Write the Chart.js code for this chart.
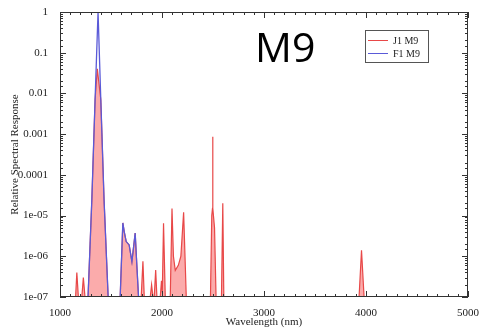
<!DOCTYPE html>
<html>
<head>
<meta charset="utf-8">
<script src="https://cdn.jsdelivr.net/npm/chart.js@4"></script>
<style>
html,body{margin:0;padding:0;background:#fff}
</style>
</head>
<body>
<canvas id="c" width="481" height="330"></canvas>
<script>

// baseline value just under the axis floor
const B = 7e-8

// J1 M9 (red, filled)
let j1Wave = [1000,1150,1153,1165,1180,1183, 1211,1214,1229,1245,1248,
1272,1275,1312,1344,1366,1400,1432,1472,1475,
1587,1590,1616,1630,1649,1678,1705,1737,1755,1770,1773,
1793,1796,1813,1826,1829, 1882,1885,1898,1911,1914, 1921,1924,1938,1950,1953,
1980,1983,1995,2003,2015,2032,2035,
2078,2081,2098,2112,2130,2160,2185,2212,2238,2241,
2472,2475,2488,2495,2497,2499,2515,2530,2533, 2580,2583,2596,2606,2609,
3929,3932,3956,3981,3984,5000]
let j1Resp = [B,B,1e-7,4e-7,1e-7,B, B,1e-7,3e-7,1e-7,B,
B,1e-7,2.4e-5,7e-3,0.04,7e-3,2.4e-5,1e-7,B,
B,1e-7,6.6e-6,4e-6,2.3e-6,1.9e-6,7.4e-7,3.7e-6,5e-7,1e-7,B,
B,1e-7,7.5e-7,1e-7,B, B,1e-7,2e-7,1e-7,B, B,1e-7,4.6e-7,1e-7,B,
B,1e-7,2.5e-7,1.3e-7,6.5e-6,1e-7,B,
B,1e-7,1.5e-5,1e-6,4.5e-7,6e-7,1e-6,1.2e-5,1e-7,B,
B,1e-7,1e-5,1.5e-5,8.6e-4,1.5e-5,5e-6,1e-7,B, B,1e-7,2e-5,1e-7,B,
B,1e-7,1.4e-6,1e-7,B,B]

// F1 M9 (blue)
let f1Wave = [1000,1272,1275,1312,1344,1373,1400,1432,1472,1475,
1587,1590,1616,1630,1649,1678,1705,1737,1755,1770,1773,5000]
let f1Resp = [B,B,1e-7,2.4e-5,7e-3,1,7e-3,2.4e-5,1e-7,B,
B,1e-7,6.6e-6,4e-6,2.3e-6,1.9e-6,7.4e-7,3.7e-6,5e-7,1e-7,B,B]

let seriesNames = ["J1 M9","F1 M9"]
let seriesColors = ["#e84848","#5a5ad8"]

const serif = "'Liberation Serif', 'DejaVu Serif', serif"

function fmtY(v){
let e = Math.round(Math.log10(v))
if(Math.abs(v - Math.pow(10,e)) > 1e-11*Math.pow(10,e)) return ""
if(e >= -4) return String(Number(Math.pow(10,e).toFixed(-e > 0 ? -e : 0)))
return "1e-0" + Math.abs(e)
}

// ----------------------------
// FRAME, INWARD TICKS, LEGEND
// ----------------------------

const framePlugin = {
id:"frame",
afterDraw(chart){
const c = chart.ctx
const a = chart.chartArea
const xs = chart.scales.x
const ys = chart.scales.y
c.save()
c.strokeStyle = "#333"
c.lineWidth = 1
c.strokeRect(Math.round(a.left)+0.5, Math.round(a.top)+0.5, Math.round(a.right-a.left)-1, Math.round(a.bottom-a.top)-1)

c.beginPath()
xs.ticks.forEach(t=>{
let px = Math.round(xs.getPixelForValue(t.value))+0.5
let len = (t.value % 1000 === 0) ? 6 : 3
c.moveTo(px, a.bottom); c.lineTo(px, a.bottom-len)
c.moveTo(px, a.top); c.lineTo(px, a.top+len)
})
ys.ticks.forEach(t=>{
let py = Math.round(ys.getPixelForValue(t.value))+0.5
let len = fmtY(t.value) !== "" ? 6 : 3
c.moveTo(a.left, py); c.lineTo(a.left+len, py)
c.moveTo(a.right, py); c.lineTo(a.right-len, py)
})
c.stroke()

// big label
c.fillStyle = "#000"
c.font = "41px 'Open Sans', 'Noto Sans', sans-serif"
c.textBaseline = "alphabetic"
c.fillText("M9", 255, 62)

// legend box
c.fillStyle = "#fff"
c.fillRect(365.5, 30.5, 63, 32)
c.strokeStyle = "#555"
c.strokeRect(365.5, 30.5, 63, 32)
c.font = "10px " + serif
c.fillStyle = "#222"
seriesNames.forEach((n,i)=>{
let y = 40 + i*13
c.strokeStyle = seriesColors[i]
c.beginPath()
c.moveTo(368, y+0.5); c.lineTo(388, y+0.5)
c.stroke()
c.fillText(n, 393, y+4)
})
c.restore()
}
}

new Chart(document.getElementById("c"),{
type:"line",
data:{
datasets:[
{
label:seriesNames[1],
data:f1Wave.map((w,i)=>({x:w,y:f1Resp[i]})),
borderColor:seriesColors[1],
borderWidth:1.3,
pointRadius:0,
fill:false,
tension:0,
order:0
},
{
label:seriesNames[0],
data:j1Wave.map((w,i)=>({x:w,y:j1Resp[i]})),
borderColor:seriesColors[0],
backgroundColor:"rgba(250,150,150,0.8)",
borderWidth:1.2,
pointRadius:0,
fill:"start",
tension:0,
order:1
}
]
},
options:{
responsive:false,
animation:false,
layout:{padding:{top:12,right:13,left:0,bottom:0}},
plugins:{legend:{display:false},tooltip:{enabled:false}},
scales:{
x:{
type:"linear",
min:1000,
max:5000,
afterFit(s){ s.height = 33 },
grid:{display:false},
border:{display:false},
ticks:{
stepSize:100,
autoSkip:false,
maxRotation:0,
padding:2,
color:"#222",
font:{family:serif,size:11},
callback:v=> v % 1000 === 0 ? String(v) : ""
},
title:{display:true,text:"Wavelength (nm)",color:"#222",font:{family:serif,size:11},padding:{top:0,bottom:1}}
},
y:{
type:"logarithmic",
min:1e-7,
max:1,
afterFit(s){ s.width = 60 },
grid:{display:false},
border:{display:false},
ticks:{
autoSkip:false,
padding:4,
color:"#222",
font:{family:serif,size:11},
callback:v=> fmtY(v)
},
title:{display:true,text:"Relative Spectral Response",color:"#222",font:{family:serif,size:11},padding:{top:9,bottom:0}}
}
}
},
plugins:[framePlugin]
})

</script>
</body>
</html>
